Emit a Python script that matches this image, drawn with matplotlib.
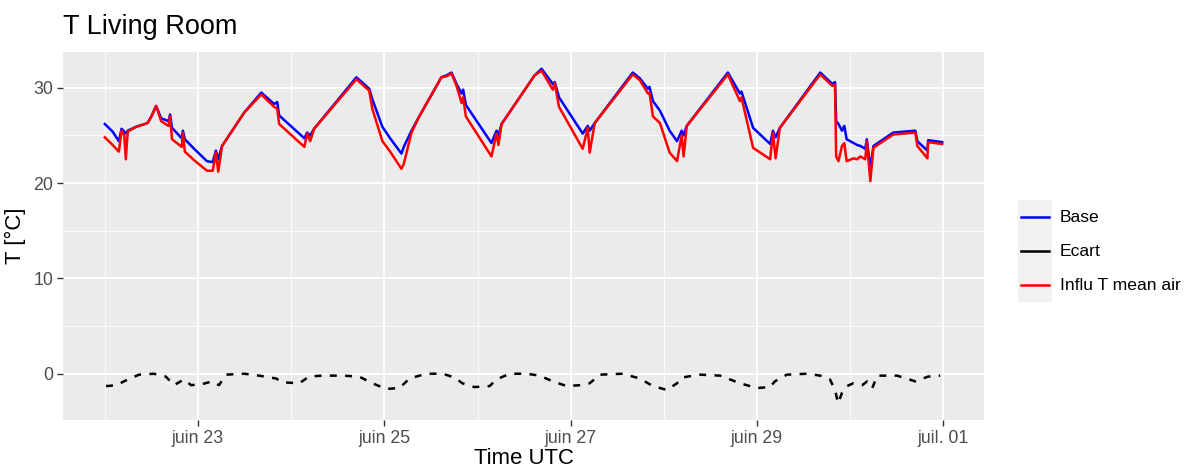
import pandas as pd
import matplotlib
matplotlib.use("Agg")
from matplotlib import pyplot as plt
from matplotlib.patches import Rectangle
from matplotlib.lines import Line2D

# hours since 2021-06-22 00:00 UTC
hours = [0.0, 2.0, 3.6, 4.3, 5.0, 5.4, 5.9, 8.0, 11.0, 12.0, 13.2, 14.5, 16.4, 16.8, 17.3,
         19.8, 20.1, 20.6, 23.0, 26.3, 27.8, 28.6, 29.2, 30.2, 35.9, 40.3, 43.6, 44.4, 44.9,
         51.4, 52.1, 52.9, 53.9, 64.8, 68.1, 68.9, 71.5, 73.5, 76.4, 77.0, 79.0, 81.0, 86.7,
         88.0, 89.3, 90.6, 91.9, 92.3, 93.0, 99.6, 100.9, 101.4, 102.2, 110.7, 112.5, 115.4,
         115.9, 117.0, 123.1, 124.4, 124.9, 126.2, 136.0, 137.8, 139.9, 140.3, 141.2, 143.0,
         145.5, 147.4, 148.6, 149.1, 149.9, 160.5, 163.6, 164.0, 167.0, 171.4, 172.1, 172.8,
         173.9, 184.3, 187.4, 188.1, 188.4, 189.0, 189.9, 190.5, 191.1, 192.9, 193.8, 194.6,
         195.9, 196.3, 197.2, 198.0, 203.1, 208.8, 209.3, 211.9, 212.1, 215.7]
base = [26.2, 25.4, 24.4, 25.7, 25.4, 25.2, 25.5, 25.9, 26.3, 27.0, 28.1, 26.8, 26.5, 27.2, 25.8,
        24.7, 25.5, 24.6, 23.6, 22.3, 22.2, 23.4, 22.5, 23.9, 27.4, 29.5, 28.3, 28.5, 27.1,
        24.7, 25.3, 25.0, 25.7, 31.1, 29.9, 28.8, 25.9, 24.7, 23.1, 23.8, 25.5, 27.0, 31.1,
        31.3, 31.6, 30.4, 29.4, 29.8, 28.2, 24.2, 25.5, 25.0, 26.2, 31.3, 32.0, 30.4,
        30.6, 29.0, 25.2, 26.0, 25.5, 26.3, 31.6, 31.0, 29.9, 30.1, 28.6, 27.6,
        25.5, 24.4, 25.5, 25.0, 26.0, 31.6, 29.4, 29.6, 25.8, 24.1, 25.5, 24.8,
        25.8, 31.6, 30.4, 30.6, 26.5, 26.2, 25.5, 26.0, 24.6, 24.2, 24.0, 23.9,
        23.6, 24.6, 21.5, 23.9, 25.3, 25.5, 24.4, 23.4, 24.5, 24.3]
influ = [24.8, 24.0, 23.3, 25.5, 25.0, 22.5, 25.4, 25.9, 26.3, 27.0, 28.1, 26.5, 26.0, 27.0, 24.6,
         23.8, 25.3, 23.3, 22.4, 21.3, 21.3, 23.2, 21.2, 23.9, 27.4, 29.3, 28.0, 27.8, 26.2,
         23.8, 25.2, 24.4, 25.7, 30.9, 29.7, 27.8, 24.4, 23.3, 21.5, 22.0, 25.3, 27.0, 31.1,
         31.2, 31.5, 30.2, 28.4, 29.0, 27.0, 22.8, 25.2, 24.0, 26.2, 31.3, 31.8, 29.8,
         30.5, 28.0, 23.6, 25.8, 23.2, 26.3, 31.4, 30.8, 29.4, 29.5, 27.0, 26.3,
         23.2, 22.3, 25.0, 22.8, 26.0, 31.4, 28.6, 29.0, 23.7, 22.5, 25.3, 22.6,
         25.8, 31.4, 30.2, 30.3, 22.8, 22.3, 23.9, 24.2, 22.3, 22.6, 22.5, 22.8,
         22.5, 24.4, 20.2, 23.7, 25.1, 25.3, 23.9, 22.6, 24.3, 24.1]

ecart_hours = [0.3, 3.1, 4.9, 8.8, 12.6, 15.7, 17.8, 20.4, 22.2, 25.0, 27.6, 29.4, 31.2, 35.9,
               39.7, 44.1, 45.7, 50.1, 52.6, 56.0, 61.2, 65.5, 68.9, 72.5, 75.9, 78.5, 82.8,
               87.0, 90.1, 92.1, 95.2, 99.1, 100.9, 104.3, 108.6, 112.0, 115.4, 119.0, 122.3,
               124.9, 127.5, 133.4, 137.8, 141.2, 144.8, 147.4, 148.6, 153.3, 158.5, 163.6,
               168.0, 171.4, 172.6, 175.7, 180.9, 184.3, 186.8, 188.1, 188.9, 189.9, 191.2,
               192.8, 195.1, 196.4, 197.7, 199.0, 204.1, 208.8, 210.1, 212.1, 215.2]
ecart = [-1.3, -1.2, -0.8, -0.1, 0.0, -0.3, -1.2, -0.6, -1.2, -1.1, -0.8, -1.2, -0.1, 0.0,
         -0.2, -0.5, -0.9, -1.0, -0.3, -0.2, -0.2, -0.3, -1.0, -1.6, -1.5, -0.5, 0.0,
         0.0, -0.4, -1.0, -1.4, -1.3, -0.6, 0.0, 0.0, -0.2, -0.8, -1.3, -1.2,
         -1.0, -0.1, 0.0, -0.5, -1.3, -1.7, -1.0, -0.4, -0.1, -0.2, -1.0,
         -1.5, -1.4, -0.8, -0.1, 0.0, -0.2, -0.6, -1.7, -3.1, -2.0, -1.3,
         -1.0, -1.2, -0.8, -1.5, -0.2, -0.2, -0.8, -0.6, -0.3, -0.2]

series_names = ["Base", "Ecart", "Influ T mean air"]
series_colors = ["#0000FF", "#000000", "#FF0000"]
tick_dates = ["2021-06-23", "2021-06-25", "2021-06-27", "2021-06-29", "2021-07-01"]
tick_labels = ["juin 23", "juin 25", "juin 27", "juin 29", "juil. 01"]
minor_dates = ["2021-06-22", "2021-06-24", "2021-06-26", "2021-06-28", "2021-06-30"]

t0 = pd.Timestamp("2021-06-22")
t_main = t0 + pd.to_timedelta(hours, unit="h")
t_ecart = t0 + pd.to_timedelta(ecart_hours, unit="h")

plt.rcParams["font.family"] = ["Liberation Sans", "DejaVu Sans"]
plt.rcParams["lines.scale_dashes"] = False

W, H = 1197, 473
fig = plt.figure(figsize=(W / 100, H / 100), dpi=100)
ax = fig.add_axes([63 / W, 1 - 420 / H, 921 / W, 368 / H])
ax.set_facecolor("#EBEBEB")
for s in ax.spines.values():
    s.set_visible(False)

lw = 1.8
ax.plot(t_main, base, color=series_colors[0], lw=lw, zorder=3)
ax.plot(t_ecart, ecart, color=series_colors[1], lw=lw, dashes=(5, 6), zorder=3)
ax.plot(t_main, influ, color=series_colors[2], lw=lw, zorder=4)

# ggplot-like 5% expansion
tmin, tmax = t0, t_main.max()
pad = (tmax - tmin) * 0.05
ax.set_xlim(tmin - pad, tmax + pad)
allv = base + influ + ecart
lo, hi = min(allv), max(allv)
ax.set_ylim(lo - 0.05 * (hi - lo), hi + 0.05 * (hi - lo))

ax.set_xticks(pd.to_datetime(tick_dates))
ax.set_xticklabels(tick_labels)
ax.set_xticks(pd.to_datetime(minor_dates), minor=True)
ax.set_yticks([0, 10, 20, 30])
ax.set_yticks([5, 15, 25], minor=True)

ax.grid(which="major", color="white", lw=1.3, zorder=0)
ax.grid(which="minor", color="white", lw=0.6, zorder=0)
ax.set_axisbelow(True)
ax.tick_params(which="major", length=4, width=1, color="#333333",
               labelcolor="#4D4D4D", labelsize=12.8, pad=3)
ax.tick_params(which="minor", length=0)

ax.set_xlabel("Time UTC", fontsize=15.9, labelpad=1)
ax.set_ylabel("T [°C]", fontsize=15.9, labelpad=5)
fig.text(63 / W, 1 - 27 / H, "T Living Room", fontsize=19.5, va="center", ha="left")

# legend with grey key boxes
for i, (name, col) in enumerate(zip(series_names, series_colors)):
    yc = 217 + i * 34
    fig.add_artist(Rectangle((1018 / W, 1 - (yc + 17) / H), 34 / W, 34 / H,
                             transform=fig.transFigure, facecolor="#F2F2F2",
                             edgecolor="none"))
    fig.add_artist(Line2D([1021 / W, 1049 / W], [1 - yc / H, 1 - yc / H],
                          transform=fig.transFigure, color=col, lw=lw))
    fig.text(1060 / W, 1 - yc / H, name, fontsize=12.6, va="center", ha="left")

fig.savefig("out.png", dpi=100)
